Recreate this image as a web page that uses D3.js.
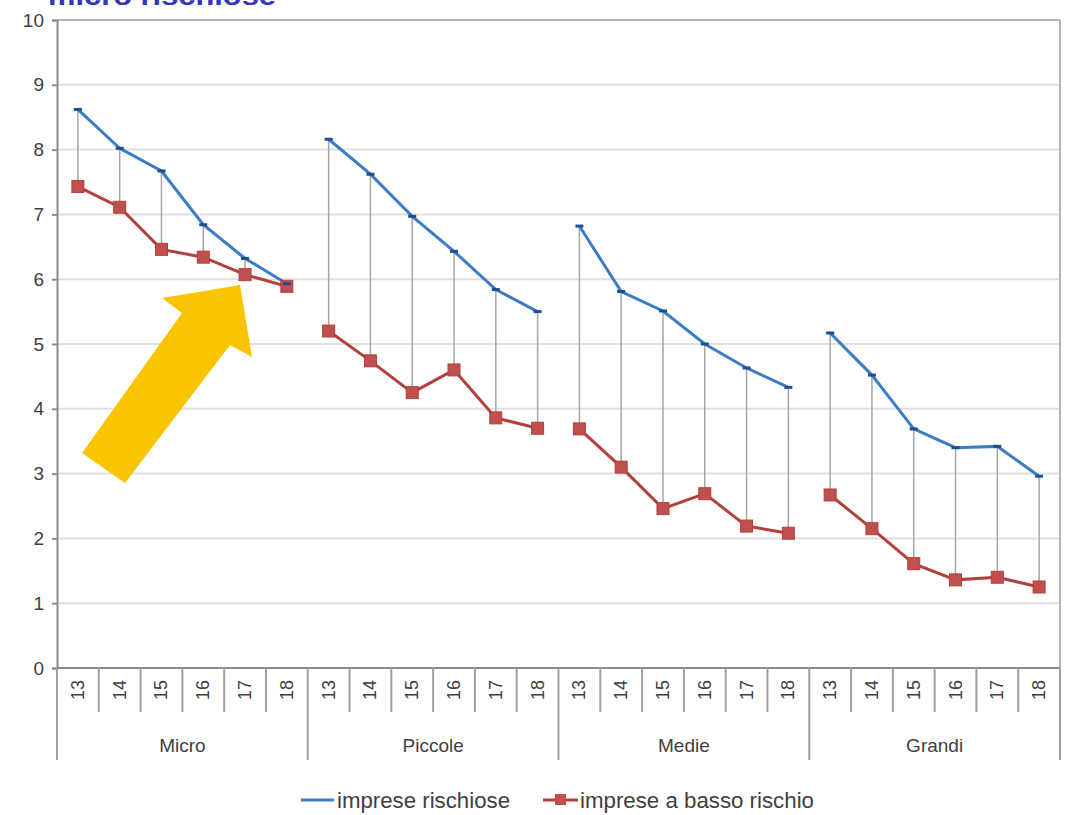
<!DOCTYPE html>
<html><head><meta charset="utf-8">
<script src="https://cdn.jsdelivr.net/npm/d3@7"></script>
<style>body{margin:0;background:#fff}svg{display:block}text{font-family:"Liberation Sans Narrow","Liberation Sans",Arial,sans-serif}</style>
</head><body>
<svg id="c" width="1069" height="815"></svg>
<script>
const groups = ["Micro","Piccole","Medie","Grandi"];
const years = ["13","14","15","16","17","18"];
const rischiose = [8.62,8.02,7.67,6.84,6.32,5.93, 8.16,7.62,6.97,6.43,5.84,5.50, 6.82,5.81,5.51,5.00,4.63,4.33, 5.17,4.52,3.69,3.40,3.42,2.96];
const bassoRischio = [7.43,7.11,6.46,6.34,6.07,5.89, 5.20,4.74,4.25,4.60,3.86,3.70, 3.69,3.10,2.46,2.69,2.19,2.08, 2.67,2.15,1.61,1.36,1.40,1.25];
const yTicks = [0,1,2,3,4,5,6,7,8,9,10];
const legendLabels = ["imprese rischiose","imprese a basso rischio"];
const titleText = "micro rischiose";

const svg = d3.select("#c");
const L=57, R=1060, T=20, B=668;
const cats = [];
groups.forEach(g=>years.forEach(y=>cats.push(g+"|"+y)));
const x = d3.scaleBand().domain(cats).range([L,R]);
const y = d3.scaleLinear().domain([0,10]).range([B,T]);
const blue="#3b7cc4", red="#b2413d", grey="#a6a6a6";

// partial title (cut off at top, as in the reference)
svg.append("text").attr("x",48).attr("y",5).attr("font-size",26).attr("font-weight","bold")
  .attr("fill","#3535b5").attr("textLength",228).attr("lengthAdjust","spacingAndGlyphs").text(titleText);

// grid
svg.append("g").selectAll("line").data(yTicks.filter(d=>d>0)).join("line")
  .attr("x1",L).attr("x2",R).attr("y1",d=>y(d)).attr("y2",d=>y(d))
  .attr("stroke","#e0e0e0").attr("stroke-width",2);
// frame top/right
svg.append("line").attr("x1",L).attr("x2",R).attr("y1",T).attr("y2",T).attr("stroke","#b4b4b4").attr("stroke-width",2);
svg.append("line").attr("x1",R).attr("x2",R).attr("y1",T).attr("y2",B).attr("stroke","#b4b4b4").attr("stroke-width",2);

// y axis
const ya = svg.append("g").attr("transform",`translate(${L},0)`)
  .call(d3.axisLeft(y).tickValues(yTicks).tickSize(5).tickPadding(8).tickFormat(d3.format("d")));
ya.select(".domain").attr("stroke","#8c8c8c").attr("stroke-width",2);
ya.selectAll(".tick line").attr("stroke","#8c8c8c").attr("stroke-width",2);
ya.selectAll("text").attr("font-size",19).attr("fill","#404040").style("font-family",'"Liberation Sans",Arial,sans-serif');

// x axis line
svg.append("line").attr("x1",L).attr("x2",R).attr("y1",B).attr("y2",B).attr("stroke","#8c8c8c").attr("stroke-width",2);
// category separators
const bw = x.bandwidth();
cats.forEach((c,i)=>{
  const xx = x(c);
  const isGroup = i%6===0;
  svg.append("line").attr("x1",xx).attr("x2",xx).attr("y1",B).attr("y2",isGroup?760:712)
    .attr("stroke","#a0a0a0").attr("stroke-width",2);
});
svg.append("line").attr("x1",R).attr("x2",R).attr("y1",B).attr("y2",760).attr("stroke","#a0a0a0").attr("stroke-width",2);
// year labels
svg.append("g").selectAll("text").data(cats).join("text")
  .attr("transform",d=>`translate(${x(d)+bw/2+6},690) rotate(-90)`)
  .attr("text-anchor","middle").attr("font-size",18).attr("fill","#404040")
  .style("font-family",'"Liberation Sans",Arial,sans-serif')
  .text(d=>d.split("|")[1]);
// group labels
svg.append("g").selectAll("text").data(groups).join("text")
  .attr("x",g=>x(g+"|"+years[0]) + bw*3).attr("y",752)
  .attr("text-anchor","middle").attr("font-size",19).attr("fill","#404040").text(g=>g);

// high-low lines
svg.append("g").selectAll("line").data(cats).join("line")
  .attr("x1",d=>x(d)+bw/2).attr("x2",d=>x(d)+bw/2)
  .attr("y1",(d,i)=>y(rischiose[i])).attr("y2",(d,i)=>y(bassoRischio[i]))
  .attr("stroke",grey).attr("stroke-width",1.5);

// arrow
const arrowPts = [[82,453],[182,313],[162,298],[240,285],[252,357],[230,345],[125,483]];
svg.append("polygon").attr("points",arrowPts.map(p=>p.join(",")).join(" ")).attr("fill","#fbc400");

// lines per group
const line = d3.line().x(d=>x(d.c)+bw/2).y(d=>y(d.v));
groups.forEach((g,gi)=>{
  const sl = d=>d.slice(gi*6,gi*6+6).map((v,k)=>({c:cats[gi*6+k],v}));
  svg.append("path").attr("d",line(sl(bassoRischio))).attr("fill","none").attr("stroke",red).attr("stroke-width",3);
  svg.append("path").attr("d",line(sl(rischiose))).attr("fill","none").attr("stroke",blue).attr("stroke-width",3);
});
// markers
svg.append("g").selectAll("rect").data(cats).join("rect")
  .attr("x",d=>x(d)+bw/2-6).attr("y",(d,i)=>y(bassoRischio[i])-6).attr("width",12).attr("height",12)
  .attr("fill","#c0504d").attr("stroke",red).attr("stroke-width",1);
svg.append("g").selectAll("rect").data(cats).join("rect")
  .attr("x",d=>x(d)+bw/2-4).attr("y",(d,i)=>y(rischiose[i])-1.5).attr("width",8).attr("height",3)
  .attr("fill","#1f4e8c");

// legend
const lg = svg.append("g");
lg.append("line").attr("x1",301).attr("x2",334).attr("y1",800).attr("y2",800).attr("stroke",blue).attr("stroke-width",3);
lg.append("text").attr("x",337).attr("y",808).attr("font-size",22).attr("fill","#404040")
  .attr("textLength",173).attr("lengthAdjust","spacingAndGlyphs").text(legendLabels[0]);
lg.append("line").attr("x1",543).attr("x2",578).attr("y1",800).attr("y2",800).attr("stroke",red).attr("stroke-width",3);
lg.append("rect").attr("x",555).attr("y",794).attr("width",11).attr("height",11).attr("fill","#c0504d");
lg.append("text").attr("x",580).attr("y",808).attr("font-size",22).attr("fill","#404040")
  .attr("textLength",234).attr("lengthAdjust","spacingAndGlyphs").text(legendLabels[1]);
</script>
</body></html>
